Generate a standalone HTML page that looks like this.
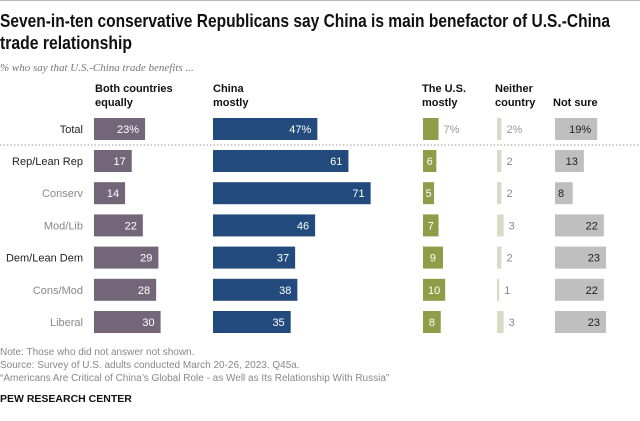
<!DOCTYPE html>
<html><head><meta charset="utf-8"><style>
html,body{margin:0;padding:0;background:#fff;}
svg{display:block;font-family:"Liberation Sans",sans-serif;}
</style></head><body>
<svg width="640" height="421" viewBox="0 0 640 421">
<line x1="0" y1="0.5" x2="640" y2="0.5" stroke="#bbb"/>
<text x="0" y="27" font-size="18" font-weight="bold" fill="#111" textLength="610" lengthAdjust="spacingAndGlyphs">Seven-in-ten conservative Republicans say China is main benefactor of U.S.-China</text>
<text x="0" y="49" font-size="18" font-weight="bold" fill="#111" textLength="132" lengthAdjust="spacingAndGlyphs">trade relationship</text>
<text x="0" y="71" font-size="11" font-style="italic" font-family="Liberation Serif,serif" fill="#777">% who say that U.S.-China trade benefits ...</text>
<g font-size="11" font-weight="bold" fill="#111">
<text x="95" y="92">Both countries</text><text x="95" y="106">equally</text>
<text x="213" y="92">China</text><text x="213" y="106">mostly</text>
<text x="422" y="92">The U.S.</text><text x="422" y="106">mostly</text>
<text x="495" y="92">Neither</text><text x="495" y="106">country</text>
<text x="553" y="106">Not sure</text>
</g>
<line x1="0" y1="145" x2="640" y2="145" stroke="#999" stroke-dasharray="1.5,2"/>
<g id="bars"></g>
<g font-size="10" fill="#888">
<text x="0" y="355">Note: Those who did not answer not shown.</text>
<text x="0" y="368">Source: Survey of U.S. adults conducted March 20-26, 2023. Q45a.</text>
<text x="0" y="381">“Americans Are Critical of China’s Global Role - as Well as Its Relationship With Russia”</text>
<text x="0" y="402" font-weight="bold" fill="#111" font-size="10.5">PEW RESEARCH CENTER</text>
</g>
</svg>
<script>
const groups=["Total","Rep/Lean Rep","Conserv","Mod/Lib","Dem/Lean Dem","Cons/Mod","Liberal"];
const both=[23,17,14,22,29,28,30];
const china=[47,61,71,46,37,38,35];
const us=[7,6,5,7,9,10,8];
const neither=[2,2,2,3,2,1,3];
const notSure=[19,13,8,22,23,22,23];
const NS="http://www.w3.org/2000/svg";
const g=document.getElementById('bars');
const rowY=i=>i===0?129:161+(i-1)*32.2;
const scale=v=>v*2.22;
const cols=[
 {data:both,x:94,color:"#736678",name:"both",mode:"in",tc:"#fff"},
 {data:china,x:213,color:"#234a7c",name:"china",mode:"in",tc:"#fff"},
 {data:us,x:423,color:"#8f9c48",name:"us",mode:"left",tc:"#fff"},
 {data:neither,x:497,color:"#dcd8c6",name:"neither",mode:"out",tc:"#888"},
 {data:notSure,x:555,color:"#bfbfbf",name:"not-sure",mode:"in",tc:"#222"}
];
function mk(tag,attrs){const e=document.createElementNS(NS,tag);for(const k in attrs)e.setAttribute(k,attrs[k]);return e;}
groups.forEach((grp,i)=>{
 const y=rowY(i);
 const lab=mk('text',{x:83,y:y+4,'text-anchor':'end','font-size':11,fill:(i===0||i===1||i===4)?'#222':'#888'});
 lab.textContent=grp;
 
 
 g.appendChild(lab);
 cols.forEach(c=>{
  const v=c.data[i];const w=scale(v);
  const r=mk('rect',{x:c.x,y:y-11,width:w,height:22,fill:c.color});
  
  
  g.appendChild(r);
  const s=i===0?v+'%':String(v);
  let t;
  if(i===0&&(c.mode!=="in")){
   t=mk('text',{x:c.x+w+5,y:y+4,'font-size':11,fill:'#999'});
  }else if(c.mode==="in"){
   if(w<25) t=mk('text',{x:c.x+3,y:y+4,'font-size':11,fill:c.tc});
   else t=mk('text',{x:c.x+w-6,y:y+4,'font-size':11,'text-anchor':'end',fill:c.tc});
  }else if(c.mode==="left"){
   t=mk('text',{x:c.x+w/2,y:y+4,'font-size':11,'text-anchor':'middle',fill:c.tc});
  }else{
   t=mk('text',{x:c.x+w+5,y:y+4,'font-size':11,fill:c.tc});
  }
  t.textContent=s;
  
  
  g.appendChild(t);
 });
});
</script>
</body></html>
